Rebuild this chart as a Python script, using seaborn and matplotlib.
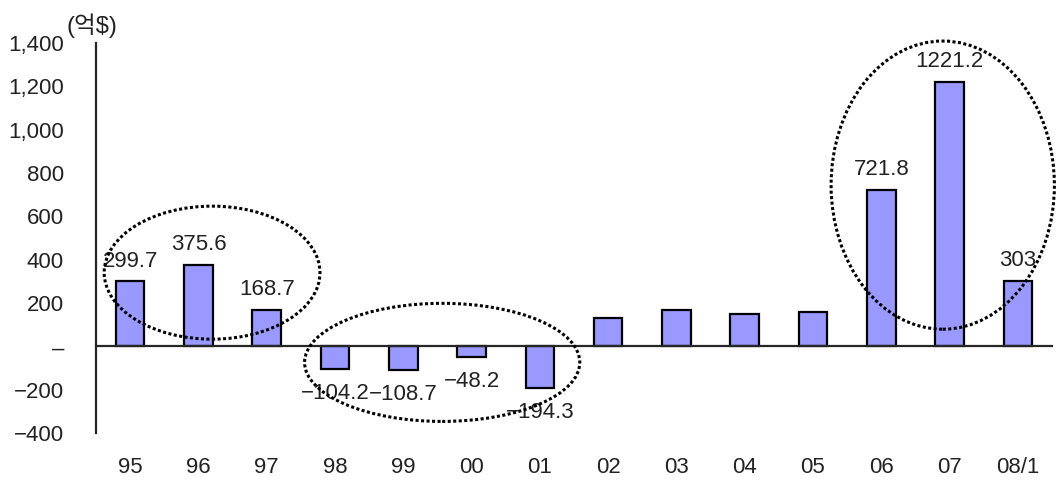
import matplotlib
matplotlib.use("Agg")
import matplotlib.pyplot as plt
import seaborn as sns
import pandas as pd
from matplotlib.patches import Ellipse
from matplotlib.ticker import FuncFormatter, FixedLocator

# Annual balance (억$)
years = ["95", "96", "97", "98", "99", "00", "01", "02", "03", "04", "05", "06", "07", "08/1"]
balance = [299.7, 375.6, 168.7, -104.2, -108.7, -48.2, -194.3, 129, 168, 149, 157, 721.8, 1221.2, 303]
labelled_years = ["95", "96", "97", "98", "99", "00", "01", "06", "07", "08/1"]

y_ticks = [-400, -200, 0, 200, 400, 600, 800, 1000, 1200, 1400]
unit_label = "(억$)"

# Highlight groups: (centre x in category units, centre y, width, height)
groups = [
    (1.2, 340, 3.16, 614),
    (4.57, -74, 4.03, 545),
    (11.9, 744, 3.27, 1330),
]

sns.set_style("white")
plt.rcParams["font.family"] = ["Liberation Sans", "Noto Sans CJK KR"]
plt.rcParams["axes.unicode_minus"] = True

df = pd.DataFrame({"year": years, "balance": balance})

fig = plt.figure(figsize=(10.56, 4.83), dpi=100)
ax = fig.add_axes([96 / 1056, 50 / 483, 956 / 1056, 390 / 483])

sns.barplot(data=df, x="year", y="balance", order=years, color="#9999FF",
            saturation=1, edgecolor="black", linewidth=1.6, width=0.42, ax=ax)

ax.set_xlim(-0.5, len(years) - 0.5)
ax.set_ylim(-400, 1400)
ax.set_xlabel("")
ax.set_ylabel("")

# y axis
ax.yaxis.set_major_locator(FixedLocator(y_ticks))
def yfmt(v, pos):
    if v == 0:
        return "–"
    s = f"{abs(v):,.0f}"
    return ("−" + s) if v < 0 else s
ax.yaxis.set_major_formatter(FuncFormatter(yfmt))
ax.tick_params(axis="y", direction="in", length=6, width=1.5, pad=23,
               labelsize=16, labelcolor="#222222")

# x axis drawn through zero, boundary ticks, labels below the plot
for s in ["top", "right"]:
    ax.spines[s].set_visible(False)
ax.spines["left"].set_linewidth(1.6)
ax.spines["bottom"].set_position(("data", 0))
ax.spines["bottom"].set_linewidth(1.6)
ax.xaxis.set_major_locator(FixedLocator([i + 0.5 for i in range(len(years))]))
ax.xaxis.set_major_formatter(FuncFormatter(lambda v, p: ""))
ax.set_xticks(range(len(years)), labels=years, minor=True)
ax.tick_params(axis="x", which="major", direction="in", length=6, width=1.5)
ax.tick_params(axis="x", which="minor", length=0, pad=80, labelsize=16,
               labelcolor="#222222")

# value labels
for i, (yr, v) in enumerate(zip(years, balance)):
    if yr not in labelled_years:
        continue
    txt = f"{v:g}".replace("-", "−")
    if v >= 0:
        ax.annotate(txt, (i, v), xytext=(0, 7), textcoords="offset points",
                    ha="center", va="bottom", fontsize=16, color="#222222")
    else:
        ax.annotate(txt, (i, v), xytext=(0, -10), textcoords="offset points",
                    ha="center", va="top", fontsize=16, color="#222222")

# dotted highlight rings
for cx, cy, w, h in groups:
    ax.add_patch(Ellipse((cx, cy), w, h, fill=False, edgecolor="black",
                         linewidth=2.2, linestyle=(0, (1, 0.8)), clip_on=False,
                         zorder=5))

fig.text(66 / 1056, 1 - 26 / 483, unit_label, fontsize=17, color="#222222",
         ha="left", va="center")

fig.savefig("out.png", dpi=100)
